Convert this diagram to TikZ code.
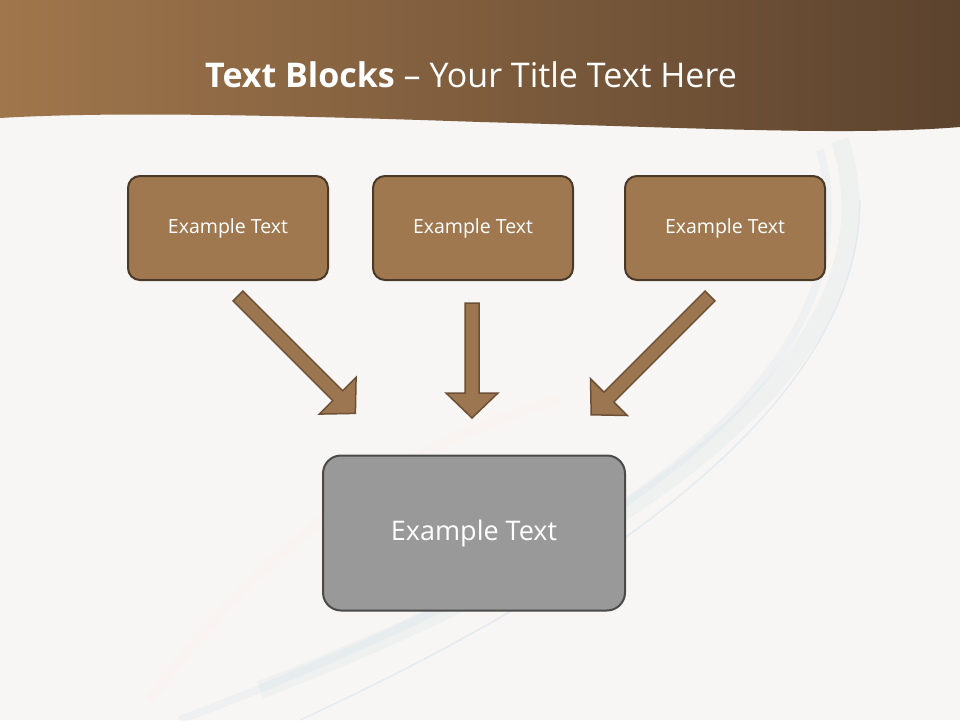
\documentclass[tikz,border=0pt]{standalone}
\usepackage{fontspec}
\setmainfont{Open Sans}
\definecolor{bg}{HTML}{F8F6F4}
\definecolor{hl}{HTML}{A0764C}
\definecolor{hr}{HTML}{5C432E}
\definecolor{boxfill}{HTML}{A07850}
\definecolor{boxline}{HTML}{4A3828}
\definecolor{arrfill}{HTML}{9C7650}
\definecolor{arrline}{HTML}{6B5035}
\definecolor{grayfill}{HTML}{999999}
\definecolor{grayline}{HTML}{4A4A4A}
\definecolor{swirl}{HTML}{C8DCE8}
\begin{document}
\begin{tikzpicture}[x=1pt,y=-1pt,
  topbox/.style={draw=boxline,line width=2pt,fill=boxfill,rounded corners=12pt,minimum width=200pt,minimum height=104pt,text=white,font=\fontsize{19.5}{23}\selectfont},
  mainbox/.style={draw=grayline,line width=2pt,fill=grayfill,rounded corners=18pt,minimum width=302pt,minimum height=155pt,text=white,font=\fontsize{27}{32}\selectfont},
  blockarrow/.style={draw=arrline,line width=1.5pt,fill=arrfill}]
\useasboundingbox (0,0) rectangle (960,720);
\fill[bg] (0,0) rectangle (960,720);
% faint swirls
\draw[swirl,line width=18pt,opacity=0.18] (840,140) .. controls (900,330) and (700,520) .. (260,690);
\draw[swirl,line width=8pt,opacity=0.2] (820,150) .. controls (880,380) and (600,560) .. (180,720);
\draw[swirl,line width=1.5pt,opacity=0.4] (860,200) .. controls (860,420) and (560,600) .. (300,720);
\draw[pink!40,line width=10pt,opacity=0.15] (150,700) .. controls (250,560) and (400,440) .. (560,400);
% header
\shade[left color=hl,right color=hr] (0,0) -- (960,0) -- (960,127) .. controls (850,136) and (700,128) .. (480,122) .. controls (250,114) and (100,112) .. (0,118) -- cycle;
\node[text=white,font=\fontsize{34}{40}\selectfont] (title) at (471,75) {\textbf{Text Blocks} – Your Title Text Here};
% boxes
\node[topbox] (b1) at (228,228) {Example Text};
\node[topbox] (b2) at (473,228) {Example Text};
\node[topbox] (b3) at (725,228) {Example Text};
\node[mainbox] (m) at (474,533) {Example Text};
% arrows
\coordinate (a1) at (238,296);
\coordinate (a2) at (472,303);
\coordinate (a3) at (710,296);
\foreach \c/\ang/\L in {a1/-45/166,a2/-90/115,a3/-135/168}{
\draw[blockarrow,shift={(\c)},rotate=\ang] (0,-7) -- (\L-25,-7) -- (\L-25,-26) -- (\L,0) -- (\L-25,26) -- (\L-25,7) -- (0,7) -- cycle;
}
\end{tikzpicture}
\end{document}
